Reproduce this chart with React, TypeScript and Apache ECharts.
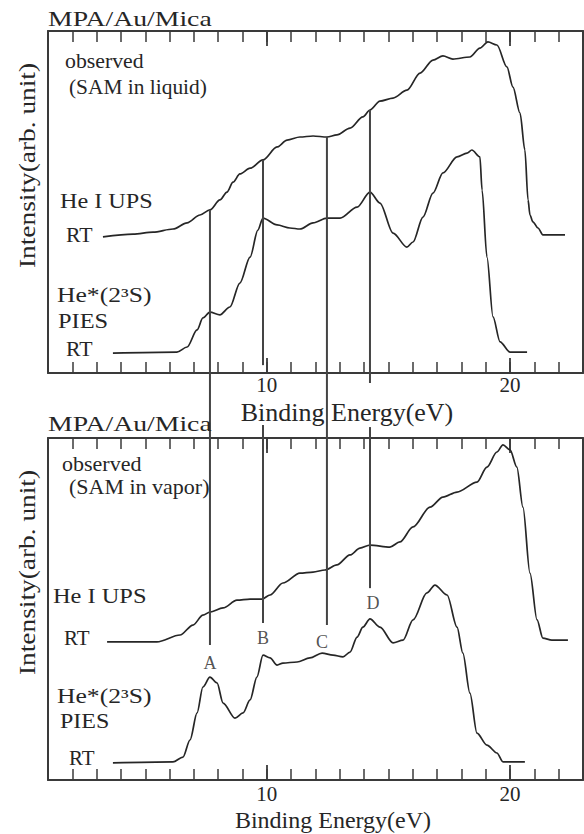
import { useEffect, useRef } from 'react';
import * as echarts from 'echarts';

// ---------- data (binding energy in eV, intensity in arbitrary units 0-100 per panel) ----------
const xMin = 1;
const xMax = 23;
const xLabelValues = [10, 20];

// Panel 1: SAM in liquid
const liquidUpsE = [3.26, 4.5, 5.32, 6.14, 6.72, 7.25, 7.66, 8.07, 8.36, 8.61, 8.89, 9.31, 9.84, 10.42, 10.83, 11.36, 11.9, 12.47, 12.88, 13.42, 13.95, 14.24, 14.65, 15.19, 15.76, 16.3, 16.83, 17.24, 17.65, 18.35, 18.76, 19.09, 19.46, 19.87, 20.12, 20.41, 20.61, 20.74, 20.82, 20.94, 21.15, 21.35, 22.26];
const liquidUpsI = [39.8, 40.6, 41.2, 42.1, 43.9, 46.2, 47.7, 50.6, 52.9, 55.8, 58.2, 59.9, 62.3, 66.1, 68.1, 69.0, 69.3, 69.0, 69.6, 71.6, 74.9, 76.9, 79.5, 80.4, 82.7, 87.7, 91.5, 92.7, 91.8, 92.4, 95.0, 96.8, 95.9, 89.5, 83.6, 76.0, 65.2, 50.6, 46.2, 44.2, 42.4, 40.4, 40.4];
const liquidPiesE = [3.67, 6.3, 6.72, 7.13, 7.37, 7.66, 8.07, 8.48, 8.89, 9.31, 9.63, 9.84, 10.42, 10.95, 11.36, 11.9, 12.47, 13.01, 13.71, 14.24, 14.65, 15.19, 15.76, 16.01, 16.42, 16.83, 17.24, 17.82, 18.23, 18.43, 18.76, 18.85, 19.05, 19.3, 19.59, 20.0, 20.7];
const liquidPiesI = [5.8, 6.1, 7.6, 12.6, 16.1, 17.8, 17.0, 19.3, 26.3, 33.9, 41.8, 45.3, 43.3, 42.4, 42.1, 43.9, 45.3, 45.3, 48.5, 52.9, 49.7, 40.9, 36.8, 38.3, 45.6, 52.6, 58.5, 63.2, 64.3, 65.2, 63.2, 53.5, 33.9, 16.4, 9.1, 6.1, 6.1];

// Panel 2: SAM in vapor
const vaporUpsE = [3.43, 5.48, 6.43, 6.96, 7.37, 7.66, 8.2, 8.77, 9.31, 9.8, 10.13, 10.66, 11.36, 11.9, 12.39, 12.88, 13.42, 13.83, 14.24, 15.06, 15.47, 16.01, 16.71, 17.24, 17.82, 18.64, 19.05, 19.46, 19.71, 20.0, 20.28, 20.53, 20.82, 21.11, 21.35, 21.72, 22.38];
const vaporUpsI = [40.4, 40.4, 42.4, 45.3, 48.2, 49.1, 50.3, 52.6, 52.9, 52.9, 54.1, 57.6, 60.5, 60.8, 61.4, 62.9, 65.8, 67.8, 68.7, 68.1, 69.6, 74.0, 79.8, 82.7, 84.2, 87.1, 91.5, 95.9, 98.0, 96.5, 91.5, 79.8, 60.5, 46.8, 41.5, 40.9, 40.9];
const vaporPiesE = [3.67, 6.14, 6.55, 6.84, 7.13, 7.37, 7.66, 7.95, 8.2, 8.69, 9.02, 9.31, 9.59, 9.84, 10.13, 10.42, 10.66, 11.24, 11.77, 12.27, 12.72, 13.13, 13.42, 13.71, 13.95, 14.24, 14.65, 15.19, 15.6, 16.01, 16.58, 16.91, 17.41, 17.82, 18.06, 18.35, 18.64, 19.05, 19.46, 19.71, 20.61];
const vaporPiesI = [5.0, 5.3, 6.7, 11.7, 19.6, 27.2, 30.1, 28.4, 22.5, 18.1, 19.6, 23.4, 30.1, 36.5, 35.7, 33.6, 34.2, 34.5, 35.7, 37.1, 36.5, 36.0, 37.4, 41.8, 44.7, 47.1, 44.7, 40.1, 40.9, 46.8, 54.7, 57.0, 54.1, 44.7, 37.1, 25.4, 13.7, 10.2, 7.9, 5.3, 5.3];

// Reference lines A-D (energy) and their segments: [panelFrom, valueFrom, panelTo, valueTo]
const refNames = ['A', 'B', 'C', 'D'];
const refE = [7.66, 9.84, 12.47, 14.24];
const refSegments: number[][][] = [
  [[0, 47.7, 1, 39.5]],
  [[0, 62.3, 0, 2.3], [1, 103.8, 1, 45.9]],
  [[0, 69.0, 1, 45.3]],
  [[0, 76.9, 0, -2.9], [1, 103.2, 1, 56.1]],
];
const refLabelE = [7.66, 9.84, 12.27, 14.36];
const refLabelI = [34.2, 41.5, 40.4, 51.8];

const zip = (a: number[], b: number[]) => a.map((v, i) => [v, b[i]]);

export default function App() {
  const ref = useRef<HTMLDivElement>(null);
  useEffect(() => {
    if (!ref.current) return;
    const chart = echarts.init(ref.current, undefined, { renderer: 'svg' });
    const font = "'Liberation Serif', 'Times New Roman', serif";
    const ink = '#262626';
    const frame = '#3a3a3a';
    const panelTops = [31, 438];
    const gridW = 535;
    const gridH = 342;

    const grids: any[] = [];
    panelTops.forEach((t) => grids.push({ left: 48, top: t, width: gridW, height: gridH, outerBoundsMode: 'none', containLabel: false }));
    panelTops.forEach((t) => grids.push({ left: 48, top: t, width: gridW, height: gridH, outerBoundsMode: 'none', containLabel: false }));

    const labelMargins = [1.5, 3.5];
    const nameGaps = [26, 28];
    const nameSizes = [26, 24];
    const namePads = [63, 35];

    const xAxes: any[] = [];
    const yAxes: any[] = [];
    [0, 1].forEach((p) => {
      xAxes.push({
        type: 'value', gridIndex: p, position: 'bottom', min: xMin, max: xMax, interval: 1,
        axisLine: { show: true, onZero: false, lineStyle: { color: frame, width: 2 } },
        axisTick: { show: true, inside: true, length: 11, lineStyle: { color: frame, width: 1.5 } },
        axisLabel: {
          show: true, margin: labelMargins[p], fontFamily: font, fontSize: 21, color: ink,
          formatter: (v: number) => (xLabelValues.indexOf(Math.round(v)) >= 0 && Math.abs(v - Math.round(v)) < 1e-6 ? String(Math.round(v)) : ''),
        },
        splitLine: { show: false },
        name: 'Binding Energy(eV)', nameLocation: 'middle', nameGap: nameGaps[p], nameMoveOverlap: false,
        nameTextStyle: { fontFamily: font, fontSize: nameSizes[p], color: ink, padding: [0, 0, 0, namePads[p]] },
      });
      xAxes.push({
        type: 'value', gridIndex: p, position: 'top', min: xMin, max: xMax, interval: 1,
        axisLine: { show: true, onZero: false, lineStyle: { color: frame, width: 2 } },
        axisTick: { show: true, inside: true, length: 11, lineStyle: { color: frame, width: 1.5 } },
        axisLabel: { show: false }, splitLine: { show: false },
      });
      yAxes.push({
        type: 'value', gridIndex: p, position: 'left', min: 0, max: 100,
        axisLine: { show: true, onZero: false, lineStyle: { color: frame, width: 2 } },
        axisTick: { show: false }, axisLabel: { show: false }, splitLine: { show: false },
      });
      yAxes.push({
        type: 'value', gridIndex: p, position: 'right', min: 0, max: 100,
        axisLine: { show: true, onZero: false, lineStyle: { color: frame, width: 2 } },
        axisTick: { show: false }, axisLabel: { show: false }, splitLine: { show: false },
      });
    });
    // overlay grids: longer major ticks at 10 and 20
    [2, 3].forEach((g) => {
      ['bottom', 'top'].forEach((pos) => {
        xAxes.push({
          type: 'value', gridIndex: g, position: pos, min: xMin, max: xMax,
          axisLine: { show: false, onZero: false },
          axisTick: { show: true, inside: true, length: 15, customValues: xLabelValues, lineStyle: { color: frame, width: 1.8 } },
          axisLabel: { show: false }, splitLine: { show: false },
        });
      });
      yAxes.push({ type: 'value', gridIndex: g, min: 0, max: 100, show: false });
    });

    const lineSeries = (data: number[][], axis: number) => ({
      type: 'line', xAxisIndex: axis, yAxisIndex: axis, data,
      symbol: 'none', showSymbol: false, smooth: 0.3, smoothMonotone: 'x', silent: true,
      lineStyle: { color: ink, width: 1.7 },
    });

    const option: any = {
      animation: false,
      backgroundColor: '#ffffff',
      grid: grids,
      xAxis: xAxes,
      yAxis: yAxes,
      series: [
        lineSeries(zip(liquidUpsE, liquidUpsI), 0),
        lineSeries(zip(liquidPiesE, liquidPiesI), 0),
        lineSeries(zip(vaporUpsE, vaporUpsI), 2),
        lineSeries(zip(vaporPiesE, vaporPiesI), 2),
        {
          type: 'scatter', xAxisIndex: 2, yAxisIndex: 2, symbolSize: 1, silent: true,
          itemStyle: { color: 'rgba(0,0,0,0)' },
          data: refNames.map((n, i) => [refLabelE[i], refLabelI[i], n]),
          label: { show: true, position: 'inside', formatter: (p: any) => p.data[2], fontFamily: font, fontSize: 18, color: ink },
        },
      ],
    };
    chart.setOption(option);

    // reference lines through the library's scales
    const lines: any[] = [];
    refSegments.forEach((segs, i) => {
      segs.forEach((s, j) => {
        const a0 = s[0] === 0 ? 0 : 2;
        const a1 = s[2] === 0 ? 0 : 2;
        const p1 = chart.convertToPixel({ xAxisIndex: a0, yAxisIndex: a0 }, [refE[i], s[1]]) as number[];
        const p2 = chart.convertToPixel({ xAxisIndex: a1, yAxisIndex: a1 }, [refE[i], s[3]]) as number[];
        lines.push({
          type: 'line', id: `ref-${i}-${j}`, z: 10, silent: true,
          shape: { x1: p1[0], y1: p1[1], x2: p2[0], y2: p2[1] },
          style: { stroke: '#444444', lineWidth: 2 },
        });
      });
    });

    const txt = (id: string, text: string, x: number, y: number, size: number, sx: number) => ({
      type: 'text', id, x, y, scaleX: sx, z: 20, silent: true,
      style: {
        text, fill: ink, font: `${size}px ${font}`,
        textAlign: 'left', textVerticalAlign: 'middle', align: 'left', verticalAlign: 'middle',
      },
    });

    const texts: any[] = [
      txt('t-title1', 'MPA/Au/Mica', 48, 19, 22, 1.26),
      txt('t-obs1', 'observed', 65, 61, 20, 1.09),
      txt('t-sam1', '(SAM in liquid)', 69, 87, 20, 1.07),
      txt('t-ups1', 'He I UPS', 60, 201, 20, 1.21),
      txt('t-rt1a', 'RT', 66, 235, 20, 1.09),
      txt('t-pies1a', 'He*(2³S)', 57, 295, 20, 1.28),
      txt('t-pies1b', 'PIES', 58, 321, 20, 1.22),
      txt('t-rt1b', 'RT', 66, 349, 20, 1.09),
      txt('t-title2', 'MPA/Au/Mica', 48, 424, 22, 1.26),
      txt('t-obs2', 'observed', 62, 464, 20, 1.1),
      txt('t-sam2', '(SAM in vapor)', 69, 487, 20, 1.1),
      txt('t-ups2', 'He I UPS', 53, 596, 20, 1.22),
      txt('t-rt2a', 'RT', 64, 638, 20, 1.05),
      txt('t-pies2a', 'He*(2³S)', 57, 696, 20, 1.28),
      txt('t-pies2b', 'PIES', 60, 721, 20, 1.2),
      txt('t-rt2b', 'RT', 69, 758, 20, 1.05),
      { ...txt('t-int1', 'Intensity(arb. unit)', 27, 268, 24, 1.14), rotation: Math.PI / 2 },
      { ...txt('t-int2', 'Intensity(arb. unit)', 27, 675, 24, 1.14), rotation: Math.PI / 2 },
    ];

    chart.setOption({ graphic: { elements: [...lines, ...texts] } });

    return () => chart.dispose();
  }, []);
  return (
    <div
      ref={ref}
      style={{ position: 'fixed', left: 0, top: 0, width: 584, height: 834, background: '#ffffff' }}
    />
  );
}
